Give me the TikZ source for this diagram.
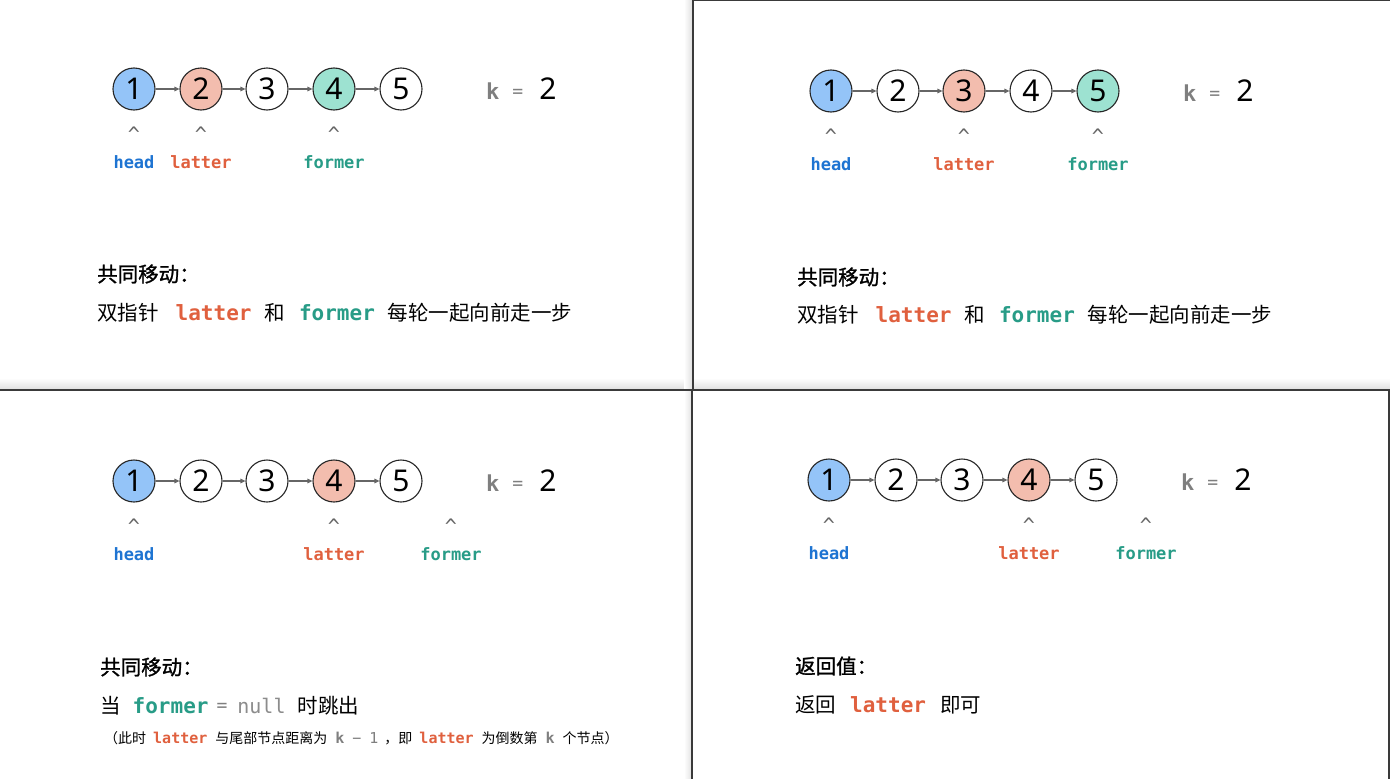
\documentclass[tikz,border=0pt]{standalone}
\usepackage{fontspec}
\setmainfont{Noto Sans}
\setmonofont{DejaVu Sans Mono}
\newfontfamily\cjk{Noto Sans CJK SC}
\newfontfamily\cjkhead{Noto Sans CJK SC}[FakeBold=1.2]
\usetikzlibrary{arrows.meta}
\definecolor{cblue}{HTML}{94C4F8}
\definecolor{csalmon}{HTML}{F3BDAE}
\definecolor{cteal}{HTML}{9DE2D1}
\definecolor{chead}{HTML}{1E74D2}
\definecolor{clatter}{HTML}{E0603E}
\definecolor{cformer}{HTML}{289C87}
\definecolor{cgrey}{HTML}{7F7F7F}
\definecolor{cframe}{HTML}{3A3A3A}
\newcommand\kwlatter[1][21]{\textcolor{clatter}{\ttfamily\bfseries\fontsize{#1}{#1}\selectfont latter}}
\newcommand\kwformer[1][21]{\textcolor{cformer}{\ttfamily\bfseries\fontsize{#1}{#1}\selectfont former}}
\tikzset{
  lnode/.style={circle, draw=black!85, line width=1.1pt, minimum size=42pt, inner sep=0pt, font=\fontsize{30}{30}\selectfont},
  link/.style={-{Triangle[length=5pt, width=4.5pt]}, draw=black!60, line width=1.1pt},
  caret/.style={text=black!60, font=\ttfamily\fontsize{20}{20}\selectfont},
  ptr/.style={text=#1, font=\ttfamily\bfseries\fontsize{17}{17}\selectfont},
  txt/.style={anchor=west, inner sep=0pt, font=\cjk\fontsize{20.5}{24}\selectfont},
  headtxt/.style={txt, font=\cjkhead\fontsize{20.5}{24}\selectfont},
  frame/.style={draw=cframe, line width=1.4pt},
}
\begin{document}
\begin{tikzpicture}[x=1pt, y=-1pt]
  \useasboundingbox (0,0) rectangle (1390,779);
  \fill[white] (0,0) rectangle (1390,779);
  % panel shadows and borders
  \shade[top color=white, bottom color=black!12] (0,378) rectangle (1390,389);
  \shade[left color=white, right color=black!12] (684,0) rectangle (692,779);
  \draw[frame] (693,0.7) -- (1390,0.7);
  \draw[frame] (693,0) -- (693,390);
  \draw[frame] (0,390) -- (1390,390);
  \draw[frame] (692,390) -- (692,779);
  \draw[frame] (1389,390) -- (1389,779);
  % the four lists with their pointers
  \foreach \p/\dx/\dy/\fa/\fb/\fc/\fd/\fe/\xl/\xf in {
      a/0/0/cblue/csalmon/white/cteal/white/201/334,
      b/697/2/cblue/white/csalmon/white/cteal/267/401,
      c/0/392/cblue/white/white/csalmon/white/334/451,
      d/695/391/cblue/white/white/csalmon/white/334/451}{
    \begin{scope}[shift={(\dx,\dy)}]
      \node[lnode, fill=\fa] (\p1) at (134,89) {1};
      \node[lnode, fill=\fb] (\p2) at (201,89) {2};
      \node[lnode, fill=\fc] (\p3) at (267,89) {3};
      \node[lnode, fill=\fd] (\p4) at (334,89) {4};
      \node[lnode, fill=\fe] (\p5) at (401,89) {5};
      \foreach \i [count=\j from 2] in {1,...,4}
        \draw[link] (\p\i) -- (\p\j);
      \node[anchor=west, inner sep=0pt] (k\p) at (486,89)
        {\textcolor{cgrey}{\ttfamily\bfseries\fontsize{22}{22}\selectfont k}\hspace{13pt}%
         \textcolor{cgrey}{\ttfamily\fontsize{18}{18}\selectfont\raisebox{2pt}{=}}\hspace{16pt}%
         \fontsize{30}{30}\selectfont 2};
      \node[caret] (hc\p) at (134,134) {\textasciicircum};
      \node[caret] (lc\p) at (\xl,134) {\textasciicircum};
      \node[caret] (fc\p) at (\xf,134) {\textasciicircum};
      \node[ptr=chead] (h\p) at (134,162) {head};
      \node[ptr=clatter] (l\p) at (\xl,162) {latter};
      \node[ptr=cformer] (f\p) at (\xf,162) {former};
    \end{scope}
  }
  % texts
  \node[headtxt] (ta1) at (97,274) {共同移动：};
  \node[txt] (ta2) at (97,313) {双指针\hspace{17pt}\kwlatter\hspace{13pt}和\hspace{14pt}\kwformer\hspace{13pt}每轮一起向前走一步};
  \node[headtxt] (tb1) at (797,277) {共同移动：};
  \node[txt] (tb2) at (797,315) {双指针\hspace{17pt}\kwlatter\hspace{13pt}和\hspace{14pt}\kwformer\hspace{13pt}每轮一起向前走一步};
  \node[headtxt] (tc1) at (100,667) {共同移动：};
  \node[txt] (tc2) at (100,706) {当\hspace{12pt}\kwformer\hspace{8pt}\textcolor{cgrey}{\ttfamily\fontsize{18}{18}\selectfont\raisebox{2pt}{=}}\hspace{10pt}\textcolor{black!45}{\ttfamily\fontsize{20}{20}\selectfont null}\hspace{12pt}时跳出};
  \node[txt, font=\cjk\fontsize{14}{16}\selectfont] (tc3) at (104,738)
    {（此时\hspace{7pt}\kwlatter[15]\hspace{8pt}与尾部节点距离为\hspace{8pt}\textcolor{cgrey}{\ttfamily\bfseries\fontsize{15}{15}\selectfont k}\hspace{8pt}\textcolor{cgrey}{\ttfamily\fontsize{15}{15}\selectfont −}\hspace{8pt}\textcolor{cgrey}{\ttfamily\fontsize{15}{15}\selectfont 1}\hspace{6pt}，即\hspace{7pt}\kwlatter[15]\hspace{8pt}为倒数第\hspace{8pt}\textcolor{cgrey}{\ttfamily\bfseries\fontsize{15}{15}\selectfont k}\hspace{8pt}个节点）};
  \node[headtxt] (td1) at (795,666) {返回值：};
  \node[txt] (td2) at (795,705) {返回\hspace{14pt}\kwlatter\hspace{14pt}即可};
\end{tikzpicture}
\end{document}
